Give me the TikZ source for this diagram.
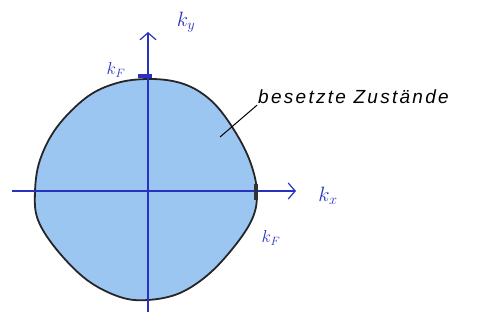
\documentclass[tikz,border=0pt]{standalone}
\usepackage{fontspec}
\setmainfont{Liberation Sans}
\usetikzlibrary{arrows.meta}
\definecolor{fillblue}{RGB}{155,198,242}
\definecolor{penblue}{RGB}{40,50,190}
\tikzset{
  axis/.style={penblue, line width=1.1pt, -{Straight Barb[length=7pt,width=16pt,line width=1.2pt]}},
  lbl/.style={penblue, font=\fontsize{20}{22}\selectfont},
  surface/.style={fill=fillblue, draw=black!85, line width=1.8pt},
}
\begin{document}
\begin{tikzpicture}[x=1pt,y=-1pt]
\useasboundingbox (0,0) rectangle (481,326);
\draw[surface] plot[smooth cycle, tension=0.6] coordinates {
 (148,79) (177,82) (200,92) (220,110) (240,140) (252,167) (257,193)
 (253,217) (237,243) (210,273) (180,293) (148,300) (120,297) (87,280)
 (57,250) (38,220) (35,192) (40,160) (57,127) (87,97) (117,83)};
\coordinate (xs) at (12,191);
\coordinate (xe) at (296,191);
\coordinate (ys) at (148,312);
\coordinate (ye) at (148,32);
\draw[axis] (xs) -- (xe);
\draw[axis] (ys) -- (ye);
\draw[penblue, line width=4pt] (138,76) -- (152,76);
\draw[black!80, line width=4pt] (256,184) -- (256,200);
\node[lbl] (ky) at (186,22) {$k_y$};
\node[lbl] (kx) at (328,196) {$k_x$};
\node[lbl, font=\fontsize{17}{19}\selectfont] (kf1) at (116,70) {$k_F$};
\node[lbl, font=\fontsize{17}{19}\selectfont] (kf2) at (271,238) {$k_F$};
\node[font=\fontsize{19}{23}\selectfont\itshape\addfontfeature{LetterSpace=12}, anchor=west, inner sep=1pt] (lab) at (257,97) {besetzte Zustände};
\coordinate (lp) at (220,137);
\draw[black, line width=1pt] (lp) -- (lab.south west);
\end{tikzpicture}
\end{document}
